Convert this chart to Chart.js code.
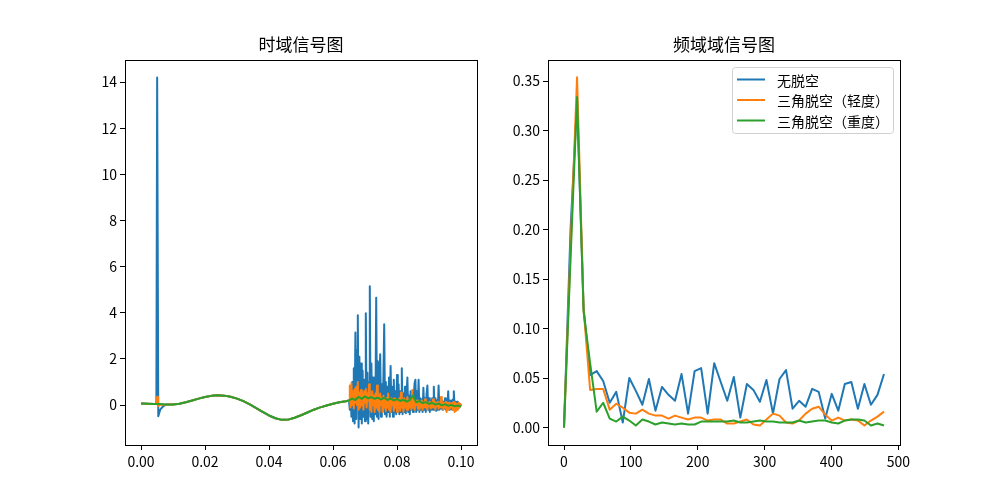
<!DOCTYPE html>
<html lang="zh">
<head>
  <meta charset="UTF-8">
  <meta name="viewport" content="width=device-width, initial-scale=1.0">
  <title>时域信号图 / 频域域信号图</title>

  <!-- ChartJS -->
  <script src="https://cdn.jsdelivr.net/npm/chart.js"></script>

  <style>
    body { margin: 0; background: #fff; }
    .lienzo { position: absolute; top: 0; }
  </style>
</head>
<body>

  <canvas id="tiempo" class="lienzo" width="500" height="500" style="left: 0;"></canvas>
  <canvas id="frecuencia" class="lienzo" width="500" height="500" style="left: 500px;"></canvas>

  <script>
    // Series y colores
    const series = ['无脱空', '三角脱空（轻度）', '三角脱空（重度）'];
    const colores = ['#1f77b4', '#ff7f0e', '#2ca02c'];

    // ---------- Grafico de tiempo ----------
    const tInicio = [0, 0.002, 0.004, 0.0048];
    const vInicio = [0.07, 0.06, 0.05, 0.05];

    // pico en t = 0.005
    const tPicoAzul = [0.00505, 0.0054, 0.006, 0.007];
    const vPicoAzul = [14.2, -0.48, -0.2, -0.04];
    const tPicoNaranja = [0.00505, 0.0053, 0.006, 0.007];
    const vPicoNaranja = [0.36, -0.05, 0.03, 0.02];
    const tPicoVerde = [0.0055, 0.007];
    const vPicoVerde = [0.05, 0.04];

    // tramo suave (comun a las tres curvas)
    const tMedio = [
      0.008, 0.010, 0.012, 0.014, 0.016, 0.018, 0.020, 0.022, 0.024, 0.026,
      0.028, 0.030, 0.032, 0.034, 0.036, 0.038, 0.040, 0.042, 0.044, 0.046,
      0.048, 0.050, 0.052, 0.054, 0.056, 0.058, 0.060, 0.062, 0.064
    ];
    const vMedio = [
      0.03, 0.03, 0.06, 0.12, 0.20, 0.28, 0.35, 0.40, 0.43, 0.41,
      0.36, 0.28, 0.17, 0.03, -0.13, -0.29, -0.45, -0.57, -0.64, -0.63,
      -0.55, -0.44, -0.32, -0.20, -0.10, -0.02, 0.06, 0.12, 0.17
    ];

    // tramo con ruido
    const tRuido = [
      0.06500, 0.06525, 0.06550, 0.06575, 0.06600, 0.06625, 0.06650, 0.06675,
      0.06700, 0.06725, 0.06750, 0.06775, 0.06800, 0.06825, 0.06850, 0.06875,
      0.06900, 0.06925, 0.06950, 0.06975, 0.07000, 0.07025, 0.07050, 0.07075,
      0.07100, 0.07125, 0.07150, 0.07175, 0.07200, 0.07225, 0.07250, 0.07275,
      0.07300, 0.07325, 0.07350, 0.07375, 0.07400, 0.07425, 0.07450, 0.07475,
      0.07500, 0.07525, 0.07550, 0.07575, 0.07600, 0.07625, 0.07650, 0.07675,
      0.07700, 0.07725, 0.07750, 0.07775, 0.07800, 0.07825, 0.07850, 0.07875,
      0.07900, 0.07925, 0.07950, 0.07975, 0.08000, 0.08025, 0.08050, 0.08075,
      0.08100, 0.08125, 0.08150, 0.08175, 0.08200, 0.08225, 0.08250, 0.08275,
      0.08300, 0.08325, 0.08350, 0.08375, 0.08400, 0.08425, 0.08450, 0.08475,
      0.08500, 0.08525, 0.08550, 0.08575, 0.08600, 0.08625, 0.08650, 0.08675,
      0.08700, 0.08725, 0.08750, 0.08775, 0.08800, 0.08825, 0.08850, 0.08875,
      0.08900, 0.08925, 0.08950, 0.08975, 0.09000, 0.09025, 0.09050, 0.09075,
      0.09100, 0.09125, 0.09150, 0.09175, 0.09200, 0.09225, 0.09250, 0.09275,
      0.09300, 0.09325, 0.09350, 0.09375, 0.09400, 0.09425, 0.09450, 0.09475,
      0.09500, 0.09525, 0.09550, 0.09575, 0.09600, 0.09625, 0.09650, 0.09675,
      0.09700, 0.09725, 0.09750, 0.09775, 0.09800, 0.09825, 0.09850, 0.09875,
      0.09900, 0.09925, 0.09950, 0.09975, 0.10000
    ];
    const vRuidoAzul = [
      0.2, -0.2, 0.7, -0.5, 1.0, -0.7, 1.6, -0.8,
      3.15, -0.6, 2.4, 3.9, -0.97, 2.1, -0.6, 1.8,
      -0.8, 1.5, -0.5, 1.1, -0.7, 3.98, -0.6, 1.4,
      -0.8, 1.0, 5.15, -0.5, 1.8, -0.6, 1.2, -0.7,
      0.9, -0.4, 4.65, -0.5, 1.9, -0.6, 1.3, 2.2,
      -0.5, 0.9, -0.3, 1.2, 3.5, -0.4, 1.0, -0.5,
      0.8, -0.3, 1.2, -0.5, 1.7, -0.3, 0.8, -0.5,
      1.1, -0.3, 0.6, -0.4, 1.3, -0.3, 0.9, -0.4,
      0.6, -0.3, 1.6, -0.4, 0.5, -0.3, 0.8, -0.35,
      0.5, 1.2, -0.3, 0.4, -0.4, 0.6, -0.2, 0.5,
      -0.3, 0.4, 0.95, 1.1, -0.3, 0.6, -0.2, 1.1,
      -0.3, 0.3, -0.2, 0.25, -0.3, 0.75, -0.2, 0.3,
      -0.3, 0.5, 0.85, -0.2, 0.3, -0.3, 0.2, -0.2,
      0.3, -0.2, 0.8, -0.2, 0.3, -0.25, 0.2, -0.2,
      0.85, -0.2, 0.3, -0.15, 0.2, -0.2, 0.15, -0.15,
      0.3, -0.2, 0.15, -0.15, 0.6, -0.2, 0.2, -0.15,
      0.2, -0.2, 0.25, 0.6, -0.1, 0.15, -0.2, 0.15,
      -0.15, 0.1, -0.1, 0.05, -0.05
    ];
    const vRuidoNaranja = [
      0.2, 0.85, -0.1, 0.95, 0.0, 0.6, -0.15, 0.7,
      0.1, 0.8, 0.0, 1.0, -0.2, 0.55, -0.1, 0.65,
      0.0, 0.5, -0.2, 0.6, 0.1, 0.7, -0.1, 0.5,
      0.2, 0.9, -0.2, 0.4, -0.3, 0.6, 0.0, 0.4,
      -0.3, 0.5, -0.1, 0.85, -0.2, 0.4, -0.3, 0.5,
      0.0, 0.3, -0.3, 0.4, -0.1, 0.3, -0.25, 0.3,
      -0.1, 0.5, -0.2, 0.2, -0.3, 0.3, 0.0, 0.25,
      -0.25, 0.3, -0.1, 0.25, -0.3, 0.2, -0.1, 0.3,
      -0.25, 0.55, -0.1, 0.2, -0.3, 0.3, -0.1, 0.2,
      -0.2, 0.35, -0.2, 0.2, -0.1, 0.25, -0.2, 0.65,
      -0.1, 0.2, -0.2, 0.15, 0.0, 0.2, -0.15, 0.1,
      -0.2, 0.15, -0.1, 0.2, -0.2, 0.1, -0.1, 0.25,
      -0.1, 0.15, -0.2, 0.1, -0.05, 0.15, -0.15, 0.1,
      -0.1, 0.25, -0.1, 0.15, -0.2, 0.1, -0.05, 0.15,
      -0.15, 0.1, -0.1, 0.35, -0.1, 0.1, -0.2, 0.1,
      -0.1, 0.15, -0.3, 0.1, -0.2, 0.1, -0.15, 0.05,
      -0.1, 0.1, -0.2, 0.15, -0.3, 0.1, -0.25, 0.05,
      -0.2, 0.1, -0.1, 0.05, -0.05
    ];
    const tRuidoVerde = [
      0.065, 0.066, 0.067, 0.068, 0.069, 0.070, 0.071, 0.072, 0.073, 0.074,
      0.075, 0.076, 0.077, 0.078, 0.079, 0.080, 0.081, 0.082, 0.083, 0.084,
      0.085, 0.086, 0.087, 0.088, 0.089, 0.090, 0.091, 0.092, 0.093, 0.094,
      0.095, 0.096, 0.097, 0.098, 0.099, 0.100
    ];
    const vRuidoVerde = [
      0.20, 0.28, 0.22, 0.36, 0.27, 0.38, 0.29, 0.35, 0.27, 0.33,
      0.24, 0.32, 0.22, 0.28, 0.20, 0.26, 0.18, 0.23, 0.15, 0.22,
      0.42, 0.12, 0.17, 0.09, 0.13, 0.05, 0.10, 0.02, 0.07, -0.01,
      0.04, -0.03, 0.01, -0.05, -0.02, -0.06
    ];

    const ticksXTiempo = [0, 0.02, 0.04, 0.06, 0.08, 0.10];
    const ticksYTiempo = [0, 2, 4, 6, 8, 10, 12, 14];

    // ---------- Grafico de frecuencia ----------
    const frecuencias = [
      0, 9.77, 19.53, 29.30, 39.06, 48.83, 58.59, 68.36, 78.13, 87.89,
      97.66, 107.42, 117.19, 126.95, 136.72, 146.48, 156.25, 166.02, 175.78, 185.55,
      195.31, 205.08, 214.84, 224.61, 234.38, 244.14, 253.91, 263.67, 273.44, 283.20,
      292.97, 302.73, 312.50, 322.27, 332.03, 341.80, 351.56, 361.33, 371.09, 380.86,
      390.63, 400.39, 410.16, 419.92, 429.69, 439.45, 449.22, 458.98, 468.75, 478.52
    ];
    const ampAzul = [
      0, 0.200, 0.330, 0.121, 0.053, 0.057, 0.047, 0.025, 0.036, 0.005,
      0.050, 0.037, 0.023, 0.049, 0.017, 0.041, 0.033, 0.027, 0.054, 0.014,
      0.057, 0.060, 0.014, 0.065, 0.046, 0.027, 0.051, 0.010, 0.044, 0.038,
      0.026, 0.048, 0.014, 0.049, 0.058, 0.019, 0.027, 0.021, 0.039, 0.036,
      0.009, 0.034, 0.017, 0.044, 0.046, 0.019, 0.044, 0.023, 0.033, 0.054
    ];
    const ampNaranja = [
      0, 0.180, 0.354, 0.120, 0.038, 0.039, 0.039, 0.018, 0.024, 0.020,
      0.015, 0.014, 0.018, 0.014, 0.012, 0.012, 0.009, 0.012, 0.010, 0.008,
      0.010, 0.010, 0.007, 0.008, 0.008, 0.004, 0.004, 0.006, 0.008, 0.003,
      0.002, 0.008, 0.014, 0.012, 0.005, 0.004, 0.007, 0.014, 0.019, 0.021,
      0.013, 0.007, 0.010, 0.007, 0.008, 0.007, 0.002, 0.007, 0.011, 0.016
    ];
    const ampVerde = [
      0, 0.170, 0.334, 0.117, 0.065, 0.016, 0.025, 0.009, 0.006, 0.011,
      0.007, 0.002, 0.008, 0.006, 0.003, 0.005, 0.004, 0.003, 0.004, 0.003,
      0.003, 0.006, 0.006, 0.006, 0.006, 0.006, 0.007, 0.005, 0.005, 0.006,
      0.007, 0.006, 0.006, 0.005, 0.005, 0.005, 0.007, 0.005, 0.006, 0.007,
      0.007, 0.005, 0.004, 0.007, 0.008, 0.008, 0.007, 0.002, 0.004, 0.002
    ];

    const ticksXFrec = [0, 100, 200, 300, 400, 500];
    const ticksYFrec = [0, 0.05, 0.10, 0.15, 0.20, 0.25, 0.30, 0.35];

    const fuente = '"Noto Sans CJK SC", "DejaVu Sans", sans-serif';
    Chart.defaults.font.family = fuente;
    Chart.defaults.font.size = 14;
    Chart.defaults.color = '#000';

    function puntos(ts, vs) {
      return ts.map((t, i) => ({ x: t, y: vs[i] }));
    }

    // Marco de ejes, titulo y leyenda dentro del area
    const marco = {
      id: 'marco',
      afterDraw(chart, args, opts) {
        const { ctx, chartArea: a } = chart;
        ctx.save();
        ctx.strokeStyle = '#000';
        ctx.lineWidth = 1;
        ctx.strokeRect(a.left + 0.5, a.top + 0.5, a.right - a.left, a.bottom - a.top);

        ctx.fillStyle = '#000';
        ctx.font = '17px ' + fuente;
        ctx.textAlign = 'center';
        ctx.textBaseline = 'alphabetic';
        ctx.fillText(opts.titulo, (a.left + a.right) / 2, a.top - 9);

        if (opts.leyenda) {
          const der = a.right - 7, arr = a.top + 7;
          const ancho = 161, alto = 66;
          const izq = der - ancho;
          ctx.beginPath();
          if (ctx.roundRect) ctx.roundRect(izq + 0.5, arr + 0.5, ancho, alto, 3);
          else ctx.rect(izq + 0.5, arr + 0.5, ancho, alto);
          ctx.fillStyle = 'rgba(255,255,255,0.8)';
          ctx.fill();
          ctx.strokeStyle = '#d0d0d0';
          ctx.stroke();

          ctx.font = '14px ' + fuente;
          ctx.textAlign = 'left';
          ctx.textBaseline = 'middle';
          chart.data.datasets.forEach((ds, i) => {
            const y = arr + 12.5 + i * 20.5;
            ctx.strokeStyle = ds.borderColor;
            ctx.lineWidth = 2;
            ctx.beginPath();
            ctx.moveTo(izq + 5, y);
            ctx.lineTo(izq + 33, y);
            ctx.stroke();
            ctx.fillStyle = '#000';
            ctx.fillText(ds.label, izq + 45, y + 1);
          });
        }
        ctx.restore();
      }
    };

    function eje(min, max, lista, formato, esX, tam) {
      return {
        type: 'linear',
        min: min,
        max: max,
        afterBuildTicks: s => { s.ticks = lista.map(v => ({ value: v })); },
        afterFit: s => {
          if (esX) s.height = tam; else s.width = tam;
          s.paddingLeft = 0; s.paddingRight = 0;
          s.paddingTop = 0; s.paddingBottom = 0;
        },
        border: { display: false },
        grid: { drawOnChartArea: false, drawTicks: true, tickLength: 5, color: '#000', lineWidth: 1 },
        ticks: { color: '#000', padding: 3, autoSkip: false, maxRotation: 0, callback: v => formato(v) }
      };
    }

    function conjunto(i, datos) {
      return {
        label: series[i],
        data: datos,
        borderColor: colores[i],
        backgroundColor: colores[i],
        borderWidth: 2,
        pointRadius: 0,
        tension: 0,
        borderJoinStyle: 'round',
        order: 2 - i
      };
    }

    const opcionesBase = {
      responsive: false,
      animation: false,
      devicePixelRatio: 1,
      parsing: true,
      elements: { point: { radius: 0 } },
      events: []
    };

    new Chart(document.getElementById('tiempo'), {
      type: 'line',
      data: {
        datasets: [
          conjunto(0, [...puntos(tInicio, vInicio), ...puntos(tPicoAzul, vPicoAzul), ...puntos(tMedio, vMedio), ...puntos(tRuido, vRuidoAzul)]),
          conjunto(1, [...puntos(tInicio, vInicio), ...puntos(tPicoNaranja, vPicoNaranja), ...puntos(tMedio, vMedio), ...puntos(tRuido, vRuidoNaranja)]),
          conjunto(2, [...puntos(tInicio, vInicio), ...puntos(tPicoVerde, vPicoVerde), ...puntos(tMedio, vMedio), ...puntos(tRuidoVerde, vRuidoVerde)])
        ]
      },
      options: {
        ...opcionesBase,
        layout: { padding: { left: 0, right: 23, top: 60, bottom: 0 } },
        plugins: { legend: { display: false }, tooltip: { enabled: false }, marco: { titulo: '时域信号图', leyenda: false } },
        scales: {
          x: eje(-0.005, 0.105, ticksXTiempo, v => v.toFixed(2), true, 55),
          y: eje(-1.73, 14.96, ticksYTiempo, v => String(v), false, 125)
        }
      },
      plugins: [marco]
    });

    new Chart(document.getElementById('frecuencia'), {
      type: 'line',
      data: {
        datasets: [
          conjunto(0, puntos(frecuencias, ampAzul)),
          conjunto(1, puntos(frecuencias, ampNaranja)),
          conjunto(2, puntos(frecuencias, ampVerde))
        ]
      },
      options: {
        ...opcionesBase,
        layout: { padding: { left: 0, right: 100, top: 60, bottom: 0 } },
        plugins: { legend: { display: false }, tooltip: { enabled: false }, marco: { titulo: '频域域信号图', leyenda: true } },
        scales: {
          x: eje(-23.93, 502.45, ticksXFrec, v => String(v), true, 55),
          y: eje(-0.0177, 0.3714, ticksYFrec, v => v.toFixed(2), false, 48)
        }
      },
      plugins: [marco]
    });
  </script>
</body>
</html>
